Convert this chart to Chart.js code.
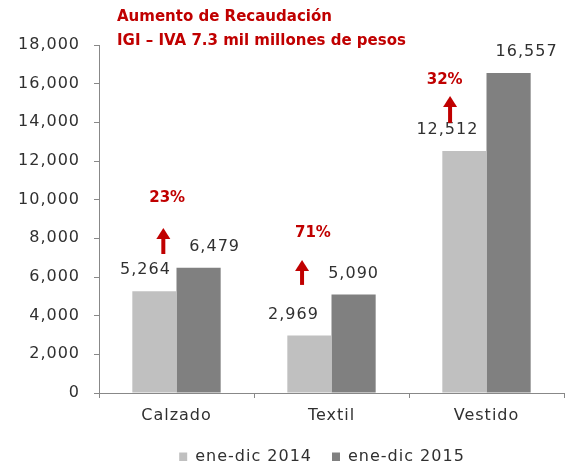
<!DOCTYPE html>
<html>
<head>
<meta charset="utf-8">
<script src="https://cdn.jsdelivr.net/npm/chart.js@4/dist/chart.umd.min.js"></script>
<style>
  html, body { margin: 0; padding: 0; background: #fff; }
  #wrap { width: 567px; height: 461px; }
</style>
</head>
<body>
<div id="wrap"><canvas id="c"></canvas></div>
<script>
// datos
const categories = ['Calzado', 'Textil', 'Vestido'];
const serie2014 = [5264, 2969, 12512];
const serie2015 = [6479, 5090, 16557];
const seriesNames = ['ene-dic 2014', 'ene-dic 2015'];
const yTicks = [0, 2000, 4000, 6000, 8000, 10000, 12000, 14000, 16000, 18000];
const growthLabels = ['23%', '71%', '32%'];
const titleLines = ['Aumento de Recaudación', 'IGI – IVA 7.3 mil millones de pesos'];

// flechas: posición en unidades de datos (desplazamiento de categoría, valor base, valor punta, valor texto)
const arrowShift = [-0.085, -0.19, -0.235];
const textShift = [-0.06, -0.12, -0.27];
const arrowBase = [7190, 5590, 13970];
const arrowTip = [8540, 6880, 15360];
const textLevel = [10090, 8280, 16190];

// corrimiento horizontal (px) de las etiquetas de valor, como en el original
const labelNudge = [[-9, -16, -17], [16, 0, 18]];

const FONT = 'DejaVu Sans';
const RED = '#c00000';
const fmt = v => v.toLocaleString('en-US');

// el original tiene el texto algo espaciado
const spacing = {
    id: 'spacing',
    beforeUpdate(chart) { chart.ctx.letterSpacing = '1px'; },
    beforeDraw(chart) { chart.ctx.letterSpacing = '1px'; },
    afterLayout(chart) {
        // leyenda un poco a la derecha, centrada bajo el área de datos
        const lg = chart.legend;
        lg.left += 40;
        lg.right += 40;
    }
};

// etiquetas sobre las barras
const valueLabels = {
    id: 'valueLabels',
    afterDatasetsDraw(chart) {
        const ctx = chart.ctx;
        ctx.save();
        ctx.font = '16px "' + FONT + '"';
        ctx.fillStyle = '#303030';
        ctx.textAlign = 'center';
        ctx.textBaseline = 'bottom';
        chart.data.datasets.forEach((ds, i) => {
            chart.getDatasetMeta(i).data.forEach((bar, j) => {
                ctx.fillText(fmt(ds.data[j]), bar.x + labelNudge[i][j], bar.y - 13);
            });
        });
        ctx.restore();
    }
};

// título, flechas rojas y porcentajes
const extras = {
    id: 'extras',
    afterDraw(chart) {
        const ctx = chart.ctx;
        const x = chart.scales.x, y = chart.scales.y;
        ctx.save();
        ctx.letterSpacing = '0px';
        ctx.fillStyle = RED;
        ctx.strokeStyle = RED;
        ctx.font = 'bold 15px "' + FONT + '"';
        ctx.textAlign = 'left';
        ctx.textBaseline = 'middle';
        ctx.fillText(titleLines[0], 117, 17);
        ctx.fillText(titleLines[1], 117, 41);

        ctx.textAlign = 'center';
        categories.forEach((c, i) => {
            const ax = x.getPixelForValue(i + arrowShift[i]);
            const yb = y.getPixelForValue(arrowBase[i]);
            const yt = y.getPixelForValue(arrowTip[i]);
            ctx.lineWidth = 4;
            ctx.beginPath();
            ctx.moveTo(ax, yb);
            ctx.lineTo(ax, yt + 10);
            ctx.stroke();
            ctx.beginPath();
            ctx.moveTo(ax - 7, yt + 11);
            ctx.lineTo(ax + 7, yt + 11);
            ctx.lineTo(ax, yt);
            ctx.closePath();
            ctx.fill();

            ctx.fillText(growthLabels[i], x.getPixelForValue(i + textShift[i]), y.getPixelForValue(textLevel[i]));
        });
        ctx.restore();
    }
};

new Chart(document.getElementById('c'), {
    type: 'bar',
    data: {
        labels: categories,
        datasets: [{
            label: seriesNames[0],
            data: serie2014,
            backgroundColor: '#c0c0c0'
        }, {
            label: seriesNames[1],
            data: serie2015,
            backgroundColor: '#808080'
        }]
    },
    options: {
        responsive: true,
        maintainAspectRatio: false,
        animation: false,
        layout: { padding: { top: 45, right: 3, left: 0, bottom: -14 } },
        categoryPercentage: 0.57,
        barPercentage: 1,
        plugins: {
            legend: {
                position: 'bottom',
                labels: {
                    font: { family: FONT, size: 16 },
                    color: '#303030',
                    boxWidth: 8,
                    boxHeight: 9,
                    padding: 20
                }
            },
            tooltip: { enabled: false }
        },
        scales: {
            x: {
                afterFit(scale) { scale.height = 36; },
                grid: { display: true, drawOnChartArea: false, drawTicks: true, tickLength: 5, color: '#888', offset: true },
                border: { color: '#888' },
                ticks: { color: '#303030', font: { family: FONT, size: 16 }, padding: 8 }
            },
            y: {
                min: 0,
                max: 18000,
                afterBuildTicks(scale) { scale.ticks = yTicks.map(v => ({ value: v })); },
                afterFit(scale) { scale.width = 99; },
                grid: { display: true, drawOnChartArea: false, drawTicks: true, tickLength: 5, color: '#888' },
                border: { color: '#888' },
                ticks: { color: '#303030', font: { family: FONT, size: 16 }, padding: 14, callback: v => fmt(v) }
            }
        }
    },
    plugins: [spacing, valueLabels, extras]
});
</script>
</body>
</html>
